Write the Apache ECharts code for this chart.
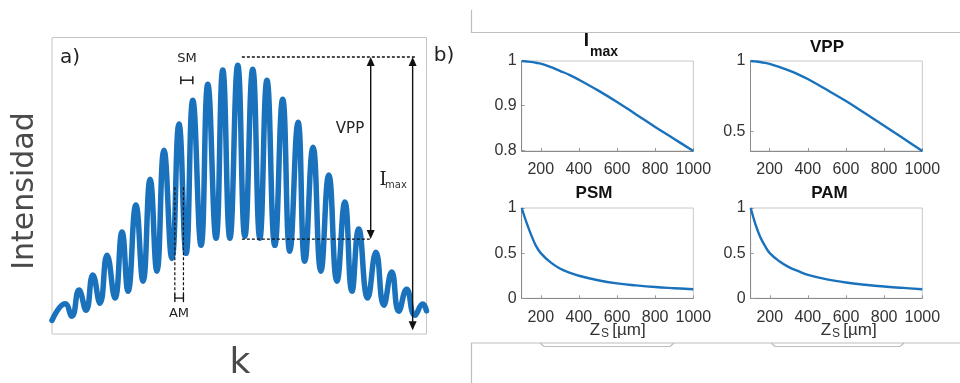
<!DOCTYPE html>
<html>
<head>
<meta charset="utf-8">
<script src="https://cdn.jsdelivr.net/npm/echarts@6/dist/echarts.min.js"></script>
<style>
html,body{margin:0;padding:0;background:#fff;}
#c{width:960px;height:383px;}
</style>
</head>
<body>
<div id="c"></div>
<script>
// ---- Panel a: interference signal (alternating troughs / peaks)
const kPos = [0,3.5,5.3,7.2,9.1,10.9,12.8,14.7,16.8,18.7,20.3,22.4,24.3,26.2,28.0,29.9,32.0,33.9,35.8,37.6,39.8,41.6,43.8,45.6,47.5,49.6,51.5,53.6,55.5,57.4,59.5,61.6,63.5,65.7,67.5,69.7,71.8,73.9,76.1,78.2,80.1,81.9,84.3,86.5,88.6,90.7,92.6,94.7,96.9,99.0,100];
const intensity = [4.6,10.2,6.0,14.8,8.0,19.9,10.4,26.6,12.1,34.4,14.4,43.5,17.8,52.2,21.2,62.0,25.5,70.8,27.2,78.8,29.9,84.2,32.3,89.0,32.3,90.6,33.0,89.3,32.3,85.6,29.9,79.2,27.9,71.4,24.5,63.0,21.2,53.6,17.8,44.5,14.4,35.4,12.1,27.6,9.7,20.9,7.7,15.1,6.3,10.1,7.8];

// Annotation levels (panel a, data units)
const topLevel = 93.4, lowLevel = 32.0, baseLevel = 1.3;

// ---- Panel b: parameters vs Zs [µm]
const zVals   = [100,125,150,175,200,250,300,350,400,500,600,700,800,900,1000];
const imaxVals= [1.0,0.999,0.998,0.996,0.994,0.987,0.978,0.969,0.958,0.934,0.908,0.880,0.852,0.825,0.798];
const vppVals = [1.0,0.997,0.993,0.987,0.979,0.958,0.934,0.905,0.872,0.795,0.715,0.628,0.540,0.450,0.36];
const psmVals = [1.0,0.84,0.70,0.58,0.50,0.40,0.33,0.285,0.25,0.20,0.165,0.143,0.125,0.112,0.10];
const pamVals = [1.0,0.82,0.68,0.58,0.50,0.41,0.345,0.30,0.26,0.21,0.175,0.15,0.13,0.115,0.10];
const xTicks = [200,400,600,800,1000];
const yTicksImax = [0.8,0.9,1];
const yTicksVpp = [0.5,1];
const yTicksP = [0,0.5,1];

const chart = echarts.init(document.getElementById('c'), null, {renderer:'canvas'});
const LS = '"Liberation Sans",Arial,sans-serif';
const tickFont = {fontFamily:LS, fontSize:16, color:'#333'};
const blue = '#1a72bc';

function pair(xs, ys){ return xs.map((x,i)=>[x, ys[i]]); }

const subGrids = [
  {left:521.7, top:61,  width:171.6, height:90},
  {left:750.5, top:61,  width:171.8, height:90},
  {left:521.7, top:208, width:171.6, height:90.3},
  {left:750.7, top:208, width:171.6, height:90.3}
];
const subY = [
  {min:0.798, max:1.0, ticks:yTicksImax},
  {min:0.36, max:1.0, ticks:yTicksVpp},
  {min:0, max:1.0, ticks:yTicksP},
  {min:0, max:1.0, ticks:yTicksP}
];
const subData = [imaxVals, vppVals, psmVals, pamVals];

const grids = [{left:52, top:37.5, width:374.5, height:296.5, show:true, borderColor:'#c4c4c4', borderWidth:1, backgroundColor:'transparent'}]
  .concat(subGrids.map(g=>Object.assign({show:true, borderColor:'#c8c8c8', borderWidth:1}, g)));

const xAxes = [{gridIndex:0, type:'value', min:0, max:100, show:false}];
const yAxes = [{gridIndex:0, type:'value', min:0, max:100, show:false}];
subGrids.forEach((g,i)=>{
  xAxes.push({gridIndex:i+1, type:'value', min:100, max:1000,
    axisLine:{show:true, lineStyle:{color:'#8a8a8a', width:1}},
    axisTick:{show:true, inside:true, length:3, customValues:xTicks, lineStyle:{color:'#999'}},
    axisLabel:Object.assign({margin:11, customValues:xTicks, formatter:v=>String(v)}, tickFont),
    splitLine:{show:false}});
  yAxes.push({gridIndex:i+1, type:'value', min:subY[i].min, max:subY[i].max,
    axisLine:{show:true, lineStyle:{color:'#8a8a8a', width:1}},
    axisTick:{show:true, inside:true, length:3, customValues:subY[i].ticks, lineStyle:{color:'#999'}},
    axisLabel:Object.assign({margin:5, customValues:subY[i].ticks, formatter:v=>String(+v.toFixed(2))}, tickFont),
    splitLine:{show:false}});
});

const series = [{type:'line', xAxisIndex:0, yAxisIndex:0, data:pair(kPos,intensity), smooth:0.5,
  symbol:'none', lineStyle:{color:blue, width:5.5, join:'round', cap:'round'}, silent:true, z:3}];
subData.forEach((d,i)=>{
  series.push({type:'line', xAxisIndex:i+1, yAxisIndex:i+1, data:pair(zVals,d), smooth:0.4,
    symbol:'none', lineStyle:{color:blue, width:2.4}, silent:true});
});

chart.setOption({animation:false, backgroundColor:'#fff', grid:grids, xAxis:xAxes, yAxis:yAxes, series:series});

// ---- annotations (positioned from data coordinates of panel a)
function P(x,y){ return chart.convertToPixel({gridIndex:0},[x,y]); }
const g = [];
function line(a,b,dash,w){ g.push({type:'line', shape:{x1:a[0],y1:a[1],x2:b[0],y2:b[1]}, style:{stroke:'#111', lineWidth:w||1.3, lineDash:dash?[3,2]:null}, z:10}); }
function arrowHead(tip, dir){ // dir: -1 up, +1 down
  const w=4, h=9;
  g.push({type:'polygon', shape:{points:[[tip[0],tip[1]],[tip[0]-w,tip[1]-dir*h],[tip[0]+w,tip[1]-dir*h]]}, style:{fill:'#111'}, z:10});
}
function dblArrow(x, y1, y2){
  const a=P(x,y1), b=P(x,y2);
  line([a[0],a[1]+6],[b[0],b[1]-6],false,1.4);
  arrowHead(a,-1); arrowHead(b,1);
}
// dashed reference levels
line(P(50.7,topLevel), P(96.9,topLevel), true, 1.4);
line(P(50.7,lowLevel), P(85.4,lowLevel), true, 1.4);
dblArrow(85.1, topLevel, lowLevel);
dblArrow(96.3, topLevel, baseLevel);
// AM dashed window
line(P(32.8,49.5), P(32.8,12.1), true, 1.2);
line(P(35.1,49.5), P(35.1,12.1), true, 1.2);
(function(){ const a=P(32.8,12.1), b=P(35.1,12.1);
  line(a,b,false,1.3); line([a[0],a[1]-4],[a[0],a[1]+4],false,1.3); line([b[0],b[1]-4],[b[0],b[1]+4],false,1.3); })();
// SM bracket
(function(){ const a=P(34.4,85.6), b=P(37.6,85.6);
  line(a,b,false,1.4); line([a[0],a[1]-4],[a[0],a[1]+4],false,1.4); line([b[0],b[1]-4],[b[0],b[1]+4],false,1.4); })();

const sans = '"DejaVu Sans",Verdana,sans-serif';
function txt(t,x,y,opt){ g.push({type:'text', x:x, y:y, z:11, style:Object.assign({text:t, fill:'#222', font:'14px '+sans, textAlign:'center', textVerticalAlign:'middle'}, opt||{})}); }
txt('a)', 70, 58, {font:'20px '+sans});
txt('b)', 444, 56, {font:'20px '+sans});
txt('SM', 187, 58.5, {font:'13px '+sans});
txt('AM', 179, 314, {font:'13px '+sans});
txt('VPP', 350, 129, {font:'15px '+sans});
txt('I', 383, 180, {font:'18px "DejaVu Serif","Liberation Serif",serif'});
txt('max', 396, 185, {font:'10px '+sans, fill:'#333'});
g.push({type:'text', x:25, y:191, rotation:Math.PI/2, z:11, style:{text:'Intensidad', fill:'#4a4a4a', font:'30px '+sans, textAlign:'center', textVerticalAlign:'middle'}});
txt('k', 240, 364, {font:'36px '+sans, fill:'#4a4a4a'});

// panel b titles and axis names
const bold = 'bold 17px '+LS;
txt('I', 586.5, 41, {font:'bold 19px '+LS, fill:'#111'});
txt('max', 604, 52, {font:'bold 14px '+LS, fill:'#111'});
txt('VPP', 827, 47.5, {font:bold, fill:'#111'});
txt('PSM', 594, 193, {font:bold, fill:'#111'});
txt('PAM', 829.5, 193, {font:bold, fill:'#111'});
[617, 848].forEach(cx=>{
  txt('Z', cx-22, 330, {font:'17px '+LS, fill:'#333'});
  txt('S', cx-12, 334, {font:'12px '+LS, fill:'#333'});
  txt('[µm]', cx+12, 330, {font:'17px '+LS, fill:'#333'});
});

// panel b frame (light gray outline pieces)
function poly(pts){ g.push({type:'polyline', shape:{points:pts}, style:{stroke:'#bdbdbd', lineWidth:1.2, fill:null}, z:1}); }
poly([[471.5,10],[471.5,32.5],[960,32.5]]);
poly([[471.5,383],[471.5,343],[960,343]]);
poly([[540,343],[544,346.5],[670,346.5],[674,343]]);
poly([[771,343],[775,346.5],[900,346.5],[904,343]]);

chart.setOption({graphic:{elements:g}});
</script>
</body>
</html>
